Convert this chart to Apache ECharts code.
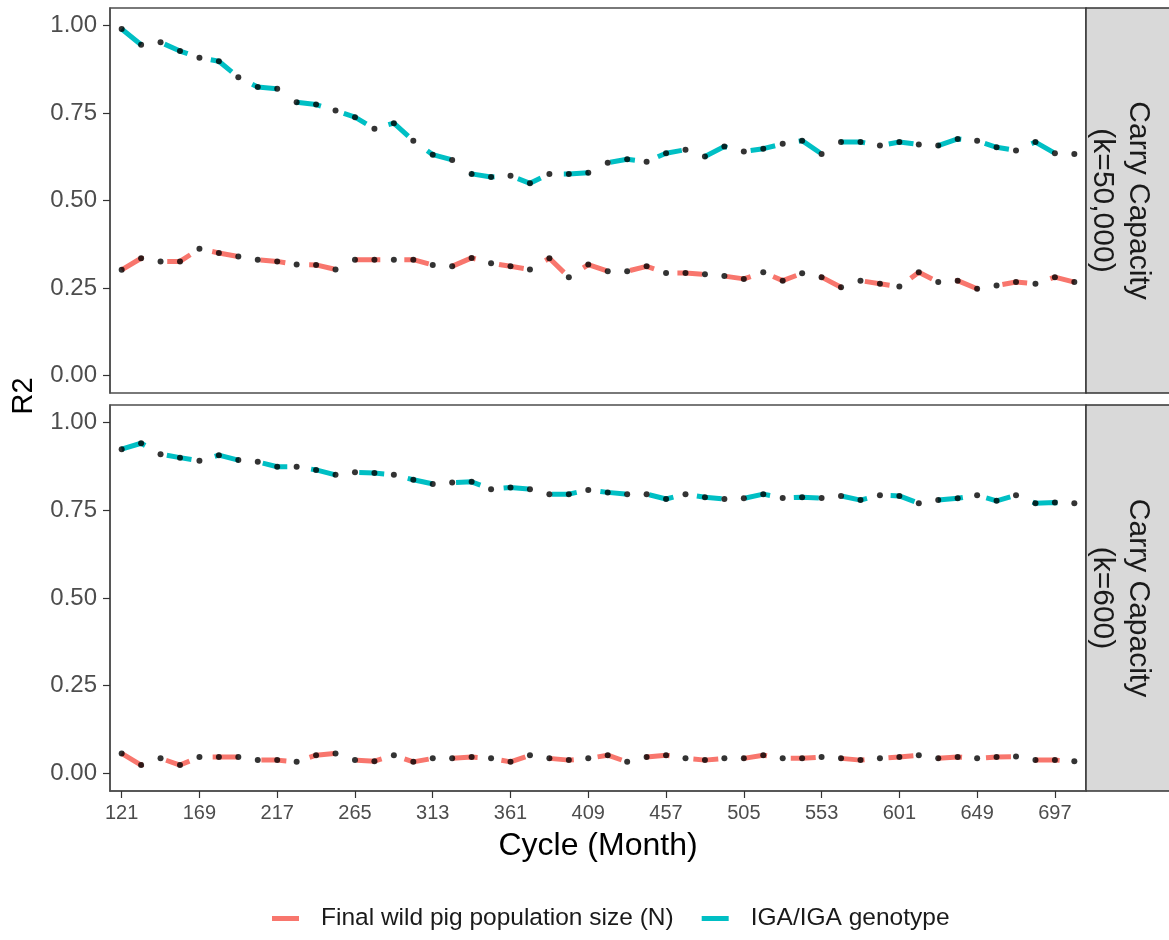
<!DOCTYPE html>
<html>
<head>
<meta charset="utf-8">
<script src="https://cdn.jsdelivr.net/npm/echarts@6/dist/echarts.min.js"></script>
<style>
  html, body { margin: 0; padding: 0; background: #ffffff; }
  #chart { width: 1169px; height: 940px; }
</style>
</head>
<body>
<div id="chart"></div>
<script>
// Simulation cycles (months), sampled every 12 months
const months = [121, 133, 145, 157, 169, 181, 193, 205, 217, 229,
                241, 253, 265, 277, 289, 301, 313, 325, 337, 349,
                361, 373, 385, 397, 409, 421, 433, 445, 457, 469,
                481, 493, 505, 517, 529, 541, 553, 565, 577, 589,
                601, 613, 625, 637, 649, 661, 673, 685, 697, 709];

const seriesNames = ['Final wild pig population size (N)', 'IGA/IGA genotype'];
const panelLabels = ['Carry Capacity\n(k=50,000)', 'Carry Capacity\n(k=600)'];

// R2 values, carrying capacity k = 50,000
const popK50000 = [0.302, 0.335, 0.326, 0.326, 0.362, 0.350, 0.340, 0.331, 0.326, 0.317,
                   0.316, 0.303, 0.331, 0.331, 0.331, 0.331, 0.316, 0.312, 0.336, 0.321,
                   0.312, 0.303, 0.335, 0.281, 0.317, 0.298, 0.298, 0.312, 0.293, 0.293,
                   0.289, 0.284, 0.276, 0.295, 0.271, 0.292, 0.281, 0.252, 0.271, 0.262,
                   0.254, 0.295, 0.267, 0.271, 0.248, 0.257, 0.267, 0.262, 0.281, 0.267];
const igaK50000 = [0.990, 0.945, 0.952, 0.927, 0.908, 0.898, 0.852, 0.824, 0.819, 0.781,
                   0.774, 0.757, 0.738, 0.705, 0.721, 0.671, 0.631, 0.616, 0.576, 0.567,
                   0.571, 0.549, 0.576, 0.576, 0.579, 0.608, 0.618, 0.611, 0.635, 0.645,
                   0.626, 0.654, 0.640, 0.648, 0.662, 0.671, 0.633, 0.667, 0.667, 0.657,
                   0.667, 0.660, 0.657, 0.676, 0.671, 0.652, 0.643, 0.667, 0.635, 0.633];

// R2 values, carrying capacity k = 600
const popK600 = [0.057, 0.024, 0.043, 0.024, 0.047, 0.047, 0.047, 0.038, 0.038, 0.033,
                 0.052, 0.057, 0.038, 0.035, 0.052, 0.033, 0.043, 0.043, 0.047, 0.043,
                 0.033, 0.052, 0.043, 0.038, 0.043, 0.052, 0.033, 0.047, 0.052, 0.043,
                 0.038, 0.043, 0.043, 0.052, 0.043, 0.043, 0.047, 0.043, 0.038, 0.043,
                 0.047, 0.052, 0.043, 0.047, 0.043, 0.047, 0.048, 0.038, 0.038, 0.035];
const igaK600 = [0.924, 0.941, 0.910, 0.900, 0.891, 0.907, 0.893, 0.888, 0.874, 0.874,
                 0.865, 0.851, 0.858, 0.856, 0.851, 0.837, 0.825, 0.829, 0.831, 0.810,
                 0.815, 0.810, 0.796, 0.796, 0.808, 0.801, 0.796, 0.796, 0.782, 0.796,
                 0.787, 0.782, 0.784, 0.796, 0.785, 0.787, 0.785, 0.791, 0.779, 0.793,
                 0.791, 0.770, 0.779, 0.784, 0.793, 0.777, 0.793, 0.770, 0.772, 0.770];

const xTicks = [121, 169, 217, 265, 313, 361, 409, 457, 505, 553, 601, 649, 697];
const yTicks = [0, 0.25, 0.5, 0.75, 1];

const COLORS = ['#F8766D', '#00BFC4'];
const FONT = 'Liberation Sans, Arial, sans-serif';
const BORDER = '#4d4d4d';

const panelData = [[popK50000, igaK50000], [popK600, igaK600]];

const grids = [
  { left: 110, top: 8, width: 976, height: 385 },
  { left: 110, top: 405, width: 976, height: 386 }
].map(g => Object.assign(g, { show: true, borderColor: BORDER, borderWidth: 1.5, backgroundColor: '#ffffff' }));

const xPad = 0.6 * 12; // discrete-style padding of 0.6 step on each side
const xAxes = [0, 1].map(i => ({
  type: 'value',
  gridIndex: i,
  min: months[0] - xPad,
  max: months[months.length - 1] + xPad,
  splitLine: { show: false },
  axisLine: { show: i === 1, onZero: false, lineStyle: { color: BORDER, width: 1.5 } },
  axisTick: { show: i === 1, customValues: xTicks, length: 7, lineStyle: { color: '#333333', width: 1.2 } },
  axisLabel: {
    show: i === 1, customValues: xTicks, margin: 12,
    fontFamily: FONT, fontSize: 20, color: '#4d4d4d'
  },
  name: i === 1 ? 'Cycle (Month)' : '',
  nameLocation: 'middle',
  nameGap: 39,
  nameTextStyle: { fontFamily: FONT, fontSize: 32, color: '#000000' }
}));

const yAxes = [0, 1].map(i => ({
  type: 'value',
  gridIndex: i,
  min: -0.05,
  max: 1.05,
  splitLine: { show: false },
  axisLine: { show: true, onZero: false, lineStyle: { color: BORDER, width: 1.5 } },
  axisTick: { show: true, customValues: yTicks, length: 7, lineStyle: { color: '#333333', width: 1.2 } },
  axisLabel: {
    customValues: yTicks, margin: 13,
    formatter: v => v.toFixed(2),
    fontFamily: FONT, fontSize: 24, color: '#4d4d4d'
  }
}));

const series = [];
panelData.forEach((pair, p) => {
  pair.forEach((vals, s) => {
    series.push({
      type: 'line',
      name: seriesNames[s],
      xAxisIndex: p,
      yAxisIndex: p,
      data: months.map((m, k) => [m, vals[k]]),
      showSymbol: false,
      itemStyle: { color: COLORS[s] },
      lineStyle: { color: COLORS[s], width: 5, type: [25, 24], cap: 'butt' },
      z: 2
    });
  });
  series.push({
    type: 'scatter',
    name: 'points' + p,
    xAxisIndex: p,
    yAxisIndex: p,
    data: pair.flatMap(vals => months.map((m, k) => [m, vals[k]])),
    symbol: 'circle',
    symbolSize: 6,
    itemStyle: { color: '#000000' },
    z: 3
  });
});

// Facet strips on the right side of each panel
const graphics = [];
grids.forEach((g, i) => {
  graphics.push({
    type: 'rect',
    shape: { x: g.left + g.width, y: g.top, width: 100, height: g.height },
    style: { fill: '#d9d9d9', stroke: '#333333', lineWidth: 1.5 },
    silent: true
  });
  graphics.push({
    type: 'text',
    x: 1120,
    y: g.top + g.height / 2,
    rotation: -Math.PI / 2,
    style: {
      text: panelLabels[i], fontFamily: FONT, fontSize: 30, lineHeight: 36,
      fill: '#1a1a1a', align: 'center', verticalAlign: 'middle'
    },
    silent: true
  });
});
graphics.push({
  type: 'text',
  x: 24,
  y: 396,
  rotation: Math.PI / 2,
  style: {
    text: 'R2', fontFamily: FONT, fontSize: 29, fill: '#000000',
    align: 'center', verticalAlign: 'middle'
  },
  silent: true
});

const chart = echarts.init(document.getElementById('chart'), null, { renderer: 'canvas' });
chart.setOption({
  animation: false,
  backgroundColor: '#ffffff',
  grid: grids,
  xAxis: xAxes,
  yAxis: yAxes,
  legend: {
    data: seriesNames.map((n, i) => ({ name: n, itemStyle: { color: COLORS[i] } })),
    icon: 'rect',
    itemWidth: 27,
    itemHeight: 5,
    itemGap: 28,
    left: 267,
    top: 901,
    textStyle: { fontFamily: FONT, fontSize: 24.5, color: '#1a1a1a', padding: [0, 0, 0, 17] }
  },
  series: series,
  graphic: graphics
});
</script>
</body>
</html>
